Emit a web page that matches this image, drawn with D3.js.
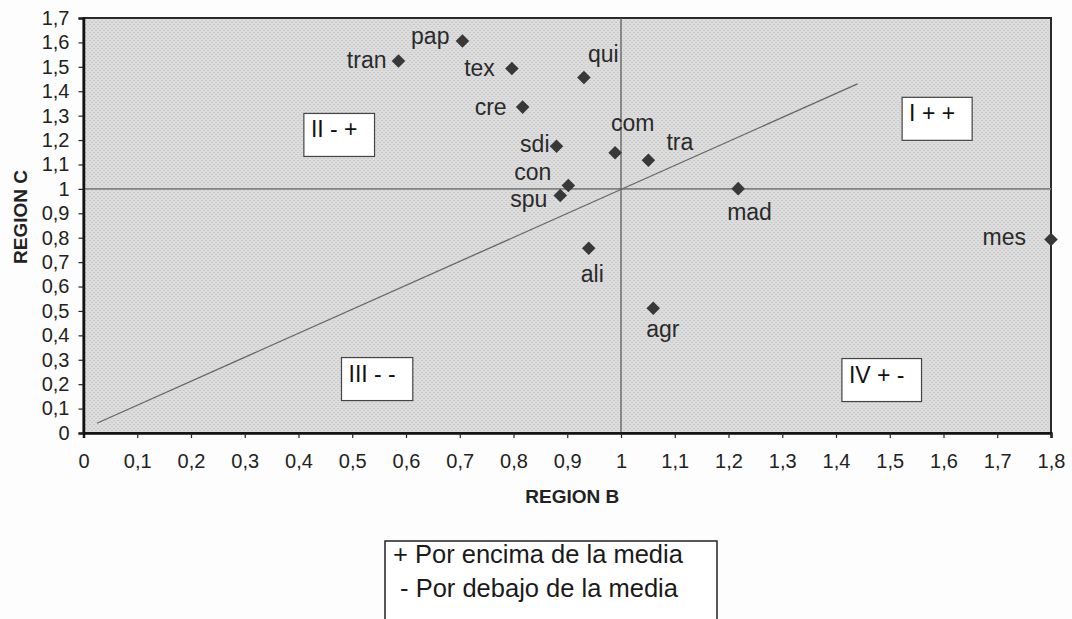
<!DOCTYPE html>
<html>
<head>
<meta charset="utf-8">
<script src="https://cdn.jsdelivr.net/npm/d3@7"></script>
<style>
  body { margin: 0; background: #fdfdfd; }
  svg { font-family: "Liberation Sans", Arial, sans-serif; }
</style>
</head>
<body>
<svg id="chart" width="1072" height="619"></svg>
<script>
// sectors and their coefficients (region B on x, region C on y)
var sectors = ["tran", "pap", "tex", "qui", "cre", "sdi", "com", "tra", "con", "spu", "mad", "mes", "ali", "agr"];
var regionB = [0.586, 0.705, 0.797, 0.931, 0.817, 0.880, 0.989, 1.051, 0.902, 0.887, 1.218, 1.80, 0.940, 1.060];
var regionC = [1.524, 1.606, 1.493, 1.456, 1.335, 1.175, 1.148, 1.117, 1.014, 0.973, 1.001, 0.793, 0.757, 0.511];

var xTicks = [0, 0.1, 0.2, 0.3, 0.4, 0.5, 0.6, 0.7, 0.8, 0.9, 1, 1.1, 1.2, 1.3, 1.4, 1.5, 1.6, 1.7, 1.8];
var yTicks = [0, 0.1, 0.2, 0.3, 0.4, 0.5, 0.6, 0.7, 0.8, 0.9, 1, 1.1, 1.2, 1.3, 1.4, 1.5, 1.6, 1.7];

// diagonal reference line (B, C endpoints)
var diagB = [0.025, 1.44];
var diagC = [0.04, 1.43];

var quadrants = ["II - +", "I + +", "III - -", "IV + -"];
var legendLines = ["+ Por encima de la media", " - Por debajo de la media"];

// label placement: dx, dy (px) and anchor
var labelPos = {
    tran: [-12, 7, "end"], pap: [-13, 3, "end"], tex: [-17, 7, "end"], qui: [4, -16, "start"],
    cre: [-16, 8, "end"], sdi: [-7, 6, "end"], com: [-4, -22, "start"], tra: [18, -10, "start"],
    con: [-17, -5, "end"], spu: [-13, 12, "end"], mad: [-11, 31, "start"], mes: [-25, 6, "end"],
    ali: [-8, 34, "start"], agr: [-7, 29, "start"]
};
// quadrant box corners in data units (left, top)
var quadBox = [[0.41, 1.309], [1.523, 1.375], [0.48, 0.309], [1.411, 0.305]];

var svg = d3.select("#chart"),
    margin = {top: 18, right: 21, bottom: 186, left: 83.5},
    width = +svg.attr("width") - margin.left - margin.right,
    height = +svg.attr("height") - margin.top - margin.bottom,
    group = svg.append("g").attr("transform", "translate(" + margin.left + "," + margin.top + ")");

var xscale = d3.scaleLinear().domain([0, 1.8]).range([0, width]);
var yscale = d3.scaleLinear().domain([0, 1.7]).range([height, 0]);

var es = d3.formatLocale({decimal: ",", thousands: ".", grouping: [3], currency: ["", "€"]});
var fmt = es.format("~g");

// stippled grey background
var defs = svg.append("defs");
var pat = defs.append("pattern").attr("id", "stipple")
    .attr("width", 4).attr("height", 4).attr("patternUnits", "userSpaceOnUse");
pat.append("rect").attr("width", 4).attr("height", 4).attr("fill", "#dddddd");
pat.append("rect").attr("x", 0).attr("y", 0).attr("width", 1).attr("height", 1).attr("fill", "#b4b4b4");
pat.append("rect").attr("x", 2).attr("y", 2).attr("width", 1).attr("height", 1).attr("fill", "#b4b4b4");

group.append("rect")
    .attr("width", width).attr("height", height)
    .attr("fill", "url(#stipple)")
    .attr("stroke", "#2a2a2a").attr("stroke-width", 2);

// mean lines
group.append("line")
    .attr("x1", 0).attr("x2", width)
    .attr("y1", yscale(1)).attr("y2", yscale(1))
    .attr("stroke", "#808080").attr("stroke-width", 1.6);
group.append("line")
    .attr("x1", xscale(1)).attr("x2", xscale(1))
    .attr("y1", 0).attr("y2", height)
    .attr("stroke", "#555").attr("stroke-width", 1.2);

// diagonal
group.append("line")
    .attr("x1", xscale(diagB[0])).attr("y1", yscale(diagC[0]))
    .attr("x2", xscale(diagB[1])).attr("y2", yscale(diagC[1]))
    .attr("stroke", "#666").attr("stroke-width", 1.3);

// quadrant boxes
var qb = group.append("g").selectAll("g")
    .data(quadrants)
    .enter().append("g")
    .attr("transform", function(d, i) { return "translate(" + xscale(quadBox[i][0]) + "," + yscale(quadBox[i][1]) + ")"; });
qb.append("rect").attr("class", "qbox")
    .attr("height", 43)
    .attr("fill", "#fff").attr("stroke", "#444").attr("stroke-width", 1.2);
qb.append("text")
    .attr("x", 7).attr("y", 24)
    .attr("font-size", 23).attr("fill", "#111")
    .style("white-space", "pre")
    .text(function(d) { return d; });
qb.each(function() {
    var g = d3.select(this);
    var w = g.select("text").node().getComputedTextLength();
    g.select("rect").attr("width", w + 24);
});

// axes
var xAxis = d3.axisBottom(xscale).tickValues(xTicks).tickFormat(fmt).tickSize(5).tickPadding(16);
var yAxis = d3.axisLeft(yscale).tickValues(yTicks).tickFormat(fmt).tickSize(5).tickPadding(9);

var gx = group.append("g").attr("class", "x_axis")
    .attr("transform", "translate(0," + height + ")")
    .call(xAxis);
var gy = group.append("g").attr("class", "y_axis").call(yAxis);

[gx, gy].forEach(function(g) {
    g.select(".domain").attr("stroke", "#111").attr("stroke-width", 2.5);
    g.selectAll(".tick line").attr("stroke", "#222").attr("stroke-width", 1.2);
    g.selectAll(".tick text").attr("font-size", 20).attr("fill", "#222")
        .attr("font-family", "Liberation Sans, Arial, sans-serif");
});

group.append("text")
    .attr("x", xscale(0.9) + 5).attr("y", height + 70)
    .attr("text-anchor", "middle")
    .attr("font-size", 19).attr("font-weight", "bold").attr("fill", "#222")
    .text("REGION B");
svg.append("text")
    .attr("transform", "translate(27,217) rotate(-90)")
    .attr("text-anchor", "middle")
    .attr("font-size", 19).attr("font-weight", "bold").attr("fill", "#222")
    .text("REGION C");

// points
var pts = sectors.map(function(s, i) { return {name: s, b: regionB[i], c: regionC[i]}; });
var diamond = d3.symbol().type(d3.symbolSquare).size(92);

group.append("g").selectAll("path")
    .data(pts)
    .enter().append("path")
    .attr("d", diamond)
    .attr("transform", function(d) { return "translate(" + xscale(d.b) + "," + yscale(d.c) + ") rotate(45)"; })
    .attr("fill", "#383838");

group.append("g").selectAll("text")
    .data(pts)
    .enter().append("text")
    .attr("x", function(d) { return xscale(d.b) + labelPos[d.name][0]; })
    .attr("y", function(d) { return yscale(d.c) + labelPos[d.name][1]; })
    .attr("text-anchor", function(d) { return labelPos[d.name][2]; })
    .attr("font-size", 23).attr("fill", "#2a2a2a")
    .text(function(d) { return d.name; });

// legend box below the chart
var legend = svg.append("g").attr("transform", "translate(385,541)");
legend.append("rect")
    .attr("width", 332).attr("height", 100)
    .attr("fill", "#fff").attr("stroke", "#222").attr("stroke-width", 1.5);
legend.selectAll("text")
    .data(legendLines)
    .enter().append("text")
    .attr("x", 8)
    .attr("y", function(d, i) { return 22 + i * 34; })
    .attr("font-size", 25.5).attr("fill", "#1a1a1a")
    .style("white-space", "pre")
    .text(function(d) { return d; });
</script>
</body>
</html>
